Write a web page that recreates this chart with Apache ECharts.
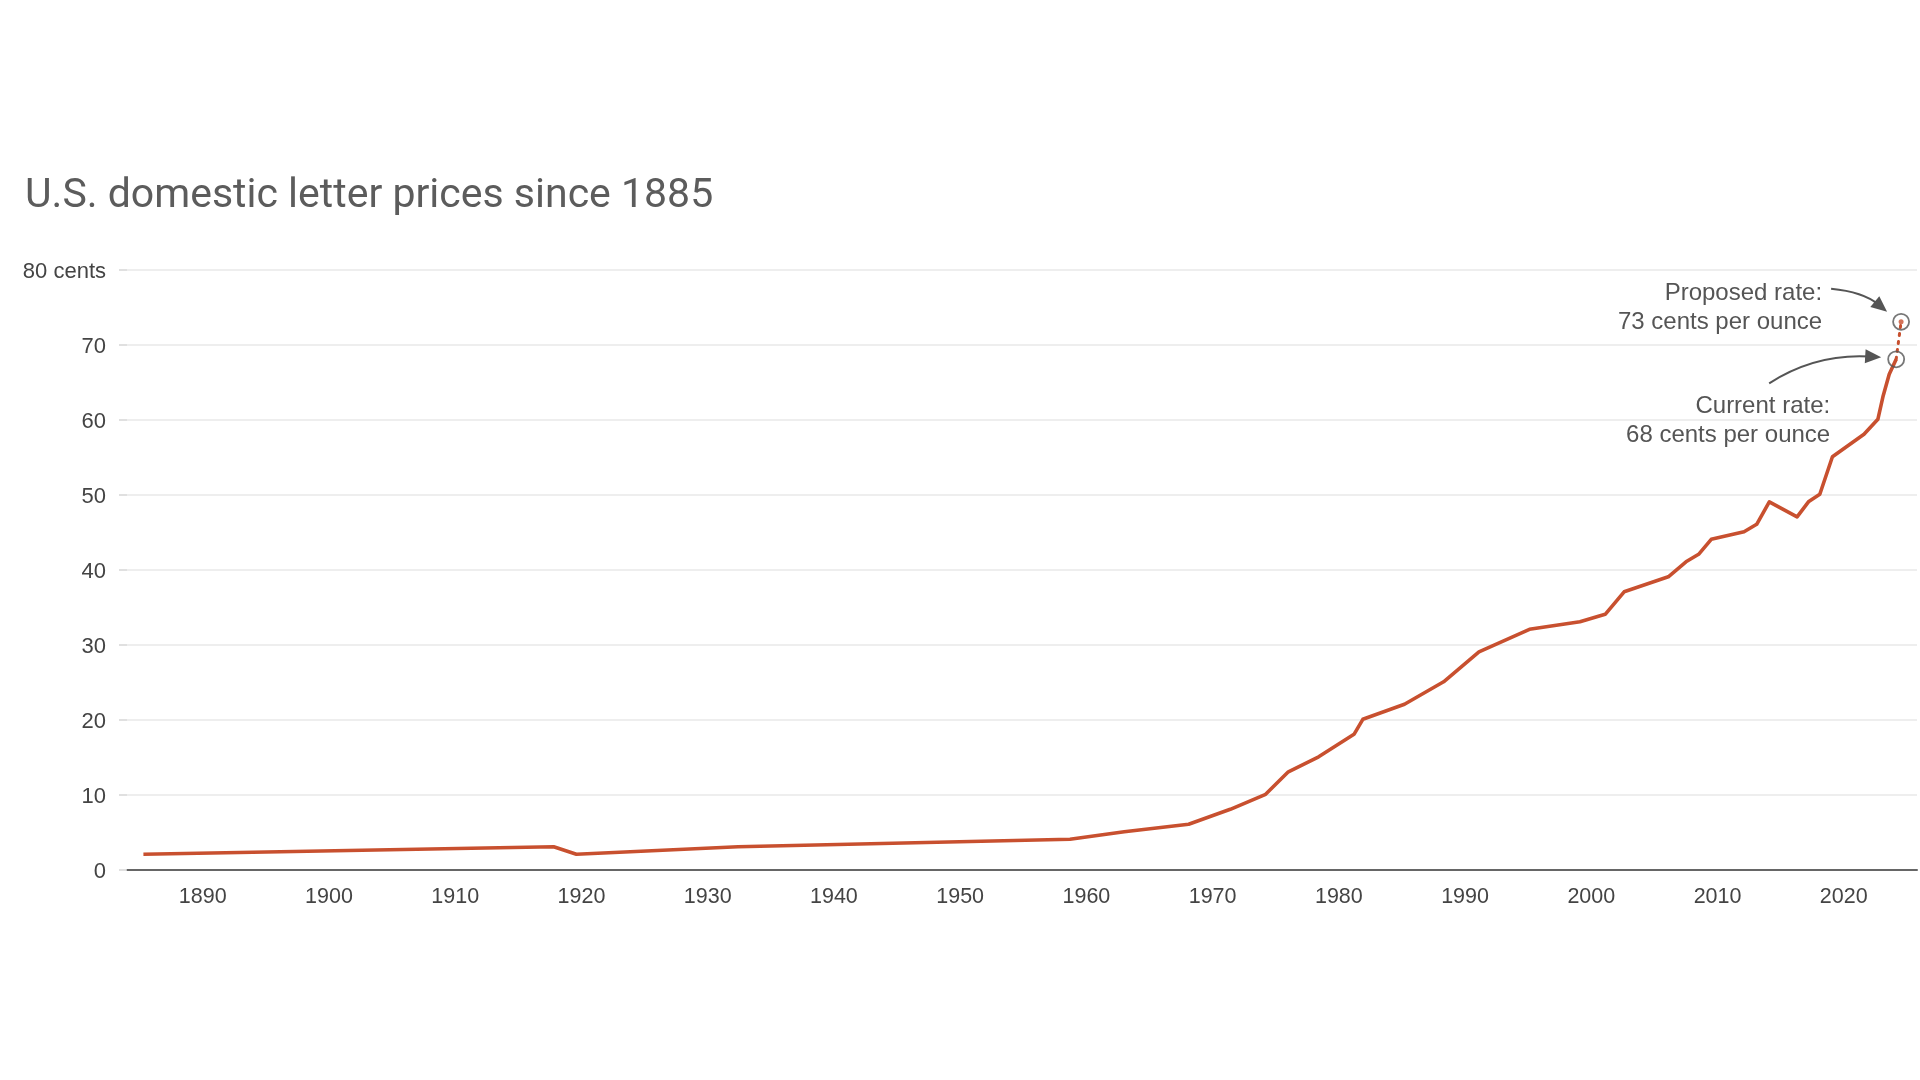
<!DOCTYPE html>
<html><head><meta charset="utf-8">
<script src="https://cdn.jsdelivr.net/npm/echarts@6/dist/echarts.min.js"></script>
<style>html,body{margin:0;padding:0;background:#ffffff}#c{width:1920px;height:1080px}</style>
</head><body><div id="c"></div><script>
// ---- data ----
const years = [1885.3, 1917.8, 1919.6, 1932.4, 1958.7, 1963.0, 1968.1, 1971.4, 1974.2, 1976.0,
  1978.4, 1981.2, 1981.9, 1985.2, 1988.3, 1991.1, 1995.1, 1999.1, 2001.1, 2002.6,
  2006.1, 2007.5, 2008.5, 2009.5, 2012.1, 2013.1, 2014.1, 2016.3, 2017.2, 2018.1,
  2019.1, 2021.6, 2022.7, 2023.1, 2023.6, 2024.15];
const cents = [2, 3, 2, 3, 4, 5, 6, 8, 10, 13,
  15, 18, 20, 22, 25, 29, 32, 33, 34, 37,
  39, 41, 42, 44, 45, 46, 49, 47, 49, 50,
  55, 58, 60, 63, 66, 68];
const rateYears = [2024.15, 2024.54];   // current, proposed
const rateCents = [68, 73];
const xTickYears = [1890, 1900, 1910, 1920, 1930, 1940, 1950, 1960, 1970, 1980, 1990, 2000, 2010, 2020];
const yTickValues = [0, 10, 20, 30, 40, 50, 60, 70, 80];
const yTopLabel = '80 cents';
const titleText = 'U.S. domestic letter prices since 1885';
const proposedLines = ['Proposed rate:', '73 cents per ounce'];
const currentLines = ['Current rate:', '68 cents per ounce'];

const RED = '#c8502f';
const GRAY = '#555555';
const AXISFONT = '"Liberation Sans", Arial, Helvetica, sans-serif';

const chart = echarts.init(document.getElementById('c'), null, {renderer: 'canvas'});
const lineData = years.map((y, i) => [y, cents[i]]);
const rateData = rateYears.map((y, i) => [y, rateCents[i]]);

chart.setOption({
  backgroundColor: '#ffffff',
  animation: false,
  title: {
    text: titleText, left: 20, top: 168,
    textStyle: {fontFamily: 'Roboto', fontWeight: 400, fontSize: 41, color: '#5c5c5c', lineHeight: 48}
  },
  grid: {left: 127, right: 0, top: 269.3, bottom: 210.7, containLabel: false},
  xAxis: {
    type: 'value', min: 1884, max: 2025.8, interval: 2,
    axisLine: {show: true, lineStyle: {color: '#666666', width: 2}},
    axisTick: {show: false},
    splitLine: {show: false},
    axisLabel: {
      margin: 17, fontSize: 21.5, color: '#444444', fontFamily: AXISFONT,
      showMinLabel: true, showMaxLabel: true, hideOverlap: false,
      formatter: v => xTickYears.includes(Math.round(v)) ? String(Math.round(v)) : ''
    }
  },
  yAxis: {
    type: 'value', min: 0, max: 80, interval: 10,
    axisLine: {show: false},
    axisTick: {show: true, length: 8, lineStyle: {color: '#d6d6d6', width: 1.5}},
    splitLine: {show: true, lineStyle: {color: '#e8e8e8', width: 1.5}},
    axisLabel: {
      margin: 21, fontSize: 22, color: '#444444', fontFamily: AXISFONT,
      rich: {v: {fontSize: 22, color: '#444444', fontFamily: AXISFONT, padding: [5, 0, 0, 0]}},
      formatter: v => '{v|' + ((v === yTickValues[yTickValues.length - 1]) ? yTopLabel : String(v)) + '}'
    }
  },
  series: [
    {
      type: 'line', data: lineData, showSymbol: false, z: 3,
      lineStyle: {color: RED, width: 3.6, join: 'round'}
    },
    {
      type: 'line', data: rateData, showSymbol: false, z: 3,
      lineStyle: {color: RED, width: 3, type: [2, 6], cap: 'round'}
    },
    {
      type: 'scatter', data: rateData, symbol: 'circle', symbolSize: 16, z: 5,
      itemStyle: {color: 'rgba(0,0,0,0)', borderColor: GRAY, borderWidth: 1.8}
    },
    {
      type: 'scatter', data: [rateData[1]], symbol: 'circle', symbolSize: 5, z: 6,
      itemStyle: {color: RED}
    }
  ]
});

// ---- annotations anchored to the rate points ----
const pC = chart.convertToPixel({gridIndex: 0}, rateData[0]);
const pP = chart.convertToPixel({gridIndex: 0}, rateData[1]);
const ANNFONT = '24px "Liberation Sans", Arial, Helvetica, sans-serif';

function txt(s, x, y) {
  return {type: 'text', z: 10, style: {text: s, x: x, y: y, align: 'right', verticalAlign: 'middle', font: ANNFONT, fill: '#555555'}};
}
function arrow(s, c, t) {
  const dx = t[0] - c[0], dy = t[1] - c[1];
  const L = Math.hypot(dx, dy), ux = dx / L, uy = dy / L;
  const len = 16, hw = 7;
  const bx = t[0] - ux * len, by = t[1] - uy * len;
  const nx = -uy, ny = ux;
  const ex = t[0] - ux * len * 0.7, ey = t[1] - uy * len * 0.7;
  return [
    {type: 'bezierCurve', z: 10, shape: {x1: s[0], y1: s[1], x2: ex, y2: ey, cpx1: c[0], cpy1: c[1]},
      style: {stroke: GRAY, lineWidth: 2, fill: null}},
    {type: 'polygon', z: 10, shape: {points: [[t[0], t[1]], [bx + nx * hw, by + ny * hw], [bx - nx * hw, by - ny * hw]]},
      style: {fill: GRAY}}
  ];
}

const g = [];
g.push(txt(proposedLines[0], pP[0] - 79, pP[1] - 28.5));
g.push(txt(proposedLines[1], pP[0] - 79, pP[1] + 0.5));
g.push(txt(currentLines[0], pC[0] - 66, pC[1] + 47));
g.push(txt(currentLines[1], pC[0] - 66, pC[1] + 76));
g.push(...arrow([pP[0] - 70, pP[1] - 33], [pP[0] - 38, pP[1] - 30], [pP[0] - 14, pP[1] - 10]));
g.push(...arrow([pC[0] - 127, pC[1] + 24], [pC[0] - 80, pC[1] - 6], [pC[0] - 15, pC[1] - 2]));
chart.setOption({graphic: g});
</script></body></html>
